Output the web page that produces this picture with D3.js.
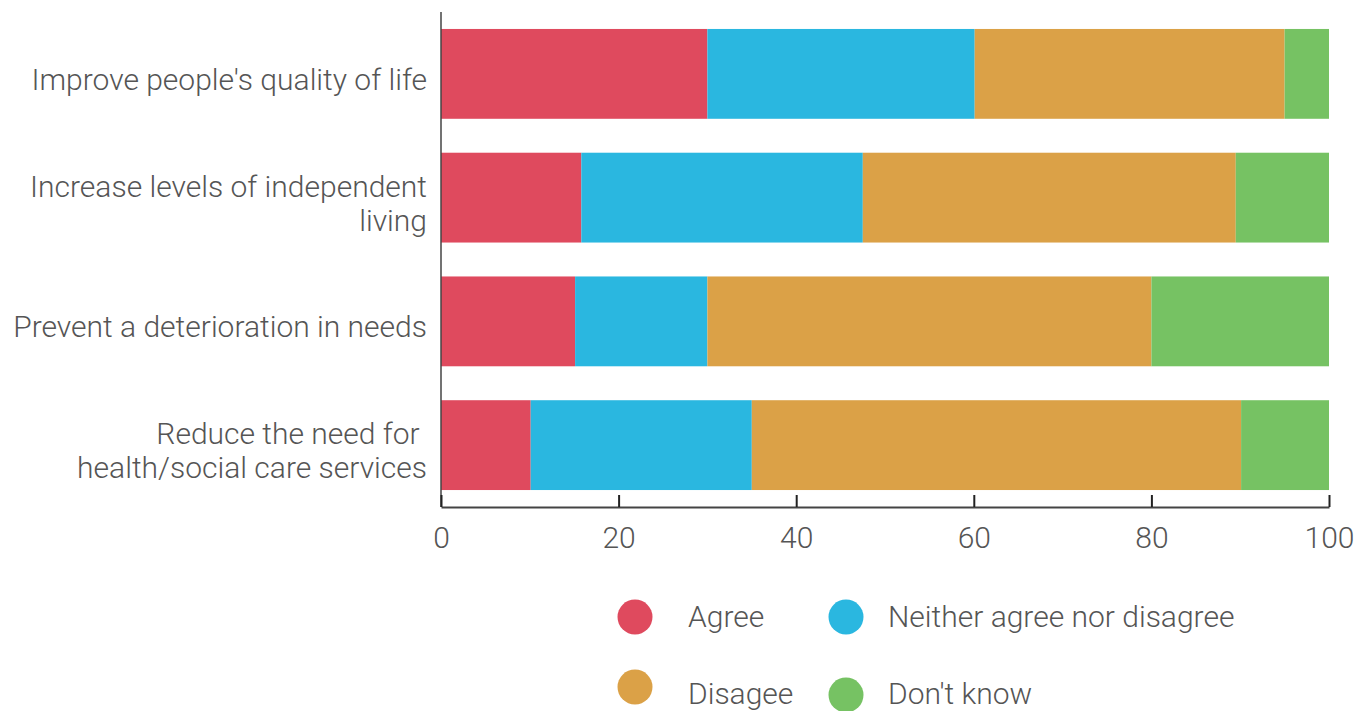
<!DOCTYPE html>
<html>
<head>
<meta charset="utf-8">
<script src="https://cdn.jsdelivr.net/npm/d3@7"></script>
<style>
  body { margin: 0; background: #fff; }
  text { font-family: Roboto, "Helvetica Neue", sans-serif; font-weight: 300; fill: #555; }
</style>
</head>
<body>
<svg id="chart" width="1370" height="711"></svg>
<script>
const categories = [
  ["Improve people's quality of life"],
  ["Increase levels of independent", "living"],
  ["Prevent a deterioration in needs"],
  ["Reduce the need for ", "health/social care services"]
];
const seriesNames = ["Agree", "Neither agree nor disagree", "Disagee", "Don't know"];
const agree = [30, 15.8, 15.1, 10.1];
const neither = [30.1, 31.7, 14.9, 24.9];
const disagree = [34.9, 42, 50, 55.1];
const dontKnow = [5, 10.5, 20, 9.9];
const xTicks = [0, 20, 40, 60, 80, 100];
const colors = ["#df4a5e", "#2ab7e0", "#dba147", "#76c263"];

const svg = d3.select("#chart");
const margin = { top: 12, left: 441, right: 41 };
const plotH = 507 - margin.top;
const fontSize = 30;

const rows = categories.map((c, i) => ({
  key: i, label: c,
  vals: [agree[i], neither[i], disagree[i], dontKnow[i]]
}));
const table = rows.map(r => {
  const o = { key: r.key };
  seriesNames.forEach((s, j) => o[s] = r.vals[j]);
  return o;
});
const stacked = d3.stack().keys(seriesNames)(table);

const x = d3.scaleLinear().domain([0, 100]).range([0, 1329 - margin.left]);
const y = d3.scaleBand().domain(rows.map(r => r.key)).range([0, plotH]).paddingInner(34 / 124).paddingOuter(17 / 124);

const g = svg.append("g").attr("transform", `translate(${margin.left},${margin.top})`);

g.selectAll("g.series")
  .data(stacked)
  .enter()
  .append("g")
  .attr("fill", (d, i) => colors[i])
  .selectAll("rect")
  .data(d => d)
  .enter()
  .append("rect")
  .attr("x", d => x(d[0]))
  .attr("y", d => y(d.data.key))
  .attr("width", d => x(d[1]) - x(d[0]))
  .attr("height", y.bandwidth());

// y axis line
g.append("line")
  .attr("x1", 0).attr("x2", 0).attr("y1", 0).attr("y2", plotH)
  .attr("stroke", "#444").attr("stroke-width", 1.5);

// category labels
const labels = g.selectAll("text.cat")
  .data(rows)
  .enter()
  .append("text")
  .attr("class", "cat")
  .attr("text-anchor", "end")
  .attr("font-size", fontSize)
  .attr("y", d => y(d.key) + y.bandwidth() / 2);
labels.selectAll("tspan")
  .data(d => d.label.map((t, i) => ({ t, i, n: d.label.length })))
  .enter()
  .append("tspan")
  .attr("x", -14)
  .attr("dy", d => d.i === 0 ? (16 - (d.n - 1) * 17) : 34)
  .text(d => d.t);

// x axis
const xAxis = g.append("g")
  .attr("transform", `translate(0,${plotH})`)
  .call(d3.axisBottom(x).tickValues(xTicks).tickSize(-12).tickPadding(0).tickSizeOuter(0));
xAxis.select(".domain").attr("stroke", "#444").attr("stroke-width", 2);
xAxis.selectAll(".tick line").attr("stroke", "#222").attr("stroke-width", 2);
xAxis.selectAll(".tick text")
  .attr("font-size", fontSize)
  .attr("y", 41)
  .attr("dy", null)
  .style("font-family", "Roboto, sans-serif")
  .style("font-weight", 300)
  .attr("fill", "#555");
xAxis.attr("font-size", null).attr("font-family", null);

// legend
const legendPos = [
  { cx: 635, cy: 617, tx: 688, ty: 627 },
  { cx: 846, cy: 617, tx: 888, ty: 627 },
  { cx: 635, cy: 687, tx: 688, ty: 704 },
  { cx: 846, cy: 695, tx: 888, ty: 704 }
];
const legend = svg.append("g");
seriesNames.forEach((s, i) => {
  const p = legendPos[i];
  legend.append("circle").attr("cx", p.cx).attr("cy", p.cy).attr("r", 17.5).attr("fill", colors[i]);
  legend.append("text").attr("x", p.tx).attr("y", p.ty).attr("font-size", fontSize).text(s);
});
</script>
</body>
</html>
